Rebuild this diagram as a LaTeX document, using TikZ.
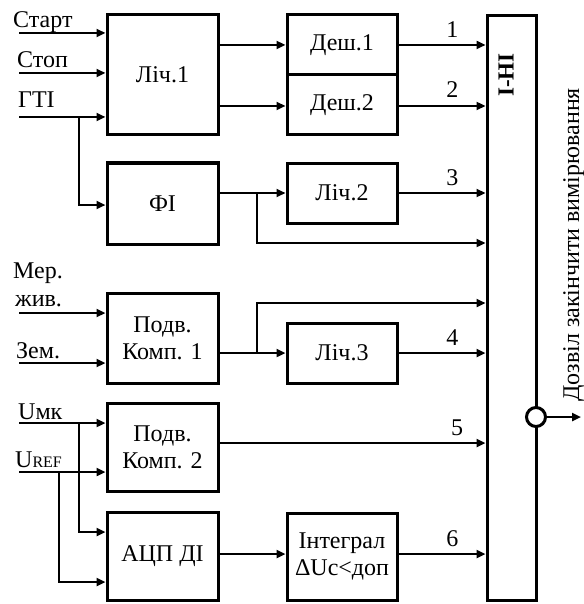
\documentclass[tikz,border=0pt]{standalone}
\usepackage{fontspec}
\setmainfont{Liberation Serif}
\newfontfamily\tmsfont{Liberation Serif}
\usetikzlibrary{arrows.meta,calc}
\begin{document}
\begin{tikzpicture}[x=1pt,y=-1pt,
  font=\tmsfont\fontsize{24}{27}\selectfont,
  blk/.style={draw,line width=3pt,inner sep=0pt,align=center,minimum width=111pt},
  wire/.style={line width=2.4pt},
  arr/.style={wire,-{Triangle[length=9pt,width=8pt]}},
  lbl/.style={anchor=base west,inner sep=0pt},
  num/.style={anchor=base,inner sep=0pt}]
\useasboundingbox (0,0) rectangle (583,604);
% blocks
\node[blk,minimum height=120pt] (lich1) at (162.5,75) {Ліч.1};
\node[blk,minimum width=110pt,minimum height=60pt] (desh1) at (342,45) {Деш.1};
\node[blk,minimum width=110pt,minimum height=60pt] (desh2) at (342,105) {Деш.2};
\node[blk,minimum height=81pt] (fi) at (162.5,203.5) {ФІ};
\node[blk,minimum width=110pt,minimum height=60pt] (lich2) at (342,193) {Ліч.2};
\node[blk,minimum height=90pt] (pk1) at (162.5,338) {Подв.\\Комп. 1};
\node[blk,minimum width=110pt,minimum height=60pt] (lich3) at (342,353) {Ліч.3};
\node[blk,minimum height=88pt] (pk2) at (162.5,447) {Подв.\\Комп. 2};
\node[blk,minimum height=88pt] (adc) at (162.5,556) {АЦП ДІ};
\node[blk,minimum width=110pt,minimum height=87pt] (integ) at (342,556.5) {Інтеграл\\ΔUc<доп};
\node[blk,minimum width=49pt,minimum height=584pt] (ihi) at (511.5,308) {};
\node[rotate=90,inner sep=0pt,font=\tmsfont\fontsize{23}{27}\selectfont\bfseries] (ihilbl) at (506,75) {І-НІ};
\node[draw,circle,line width=3pt,fill=white,minimum size=19pt,inner sep=0pt] (inv) at (536,417) {};
% input labels
\node[lbl] (tStart) at (13,28) {Старт};
\node[lbl] (tStop) at (17,68) {Стоп};
\node[lbl] (tGti) at (18,108) {ГТІ};
\node[lbl] (tMer) at (13,278) {Мер.};
\node[lbl] (tZhyv) at (15,306) {жив.};
\node[lbl] (tZem) at (16,358) {Зем.};
\node[lbl] (tUmk) at (18,419) {Uмк};
\node[lbl] (tUref) at (15,467) {U{\fontsize{16}{16}\selectfont REF}};
% input coordinates
\coordinate (inStart) at (19,33);
\coordinate (inStop) at (19,73);
\coordinate (inGti) at (19,117);
\coordinate (inMer) at (19,313);
\coordinate (inZem) at (19,363);
\coordinate (inUmk) at (19,423);
\coordinate (inUref) at (19,472);
\coordinate (jGti) at (79,117);
\coordinate (jUmk) at (79,423);
\coordinate (jUref) at (59,472);
\coordinate (jFi) at (257,193);
\coordinate (jPk1) at (257,353);
\coordinate (yA) at (0,243);
\coordinate (yB) at (0,303);
\coordinate (y1) at (0,45);
\coordinate (y2) at (0,106);
\coordinate (y5) at (0,443);
\coordinate (y6) at (0,554);
\coordinate (yAdc1) at (0,532);
\coordinate (yAdc2) at (0,582);
\coordinate (yFi) at (0,205);
\coordinate (outEnd) at (581,417);
% inputs
\draw[arr] (inStart) -- (inStart -| lich1.west);
\draw[arr] (inStop) -- (inStop -| lich1.west);
\draw[arr] (inGti) -- (inGti -| lich1.west);
\draw[arr] (jGti) |- (yFi -| fi.west);
\draw[arr] (inMer) -- (inMer -| pk1.west);
\draw[arr] (inZem) -- (inZem -| pk1.west);
\draw[arr] (inUmk) -- (inUmk -| pk2.west);
\draw[arr] (inUref) -- (inUref -| pk2.west);
\draw[arr] (jUmk) |- (yAdc1 -| adc.west);
\draw[arr] (jUref) |- (yAdc2 -| adc.west);
% internal
\draw[arr] (y1 -| lich1.east) -- (y1 -| desh1.west);
\draw[arr] (y2 -| lich1.east) -- (y2 -| desh2.west);
\draw[arr] (y1 -| desh1.east) -- (y1 -| ihi.west) node[num,pos=0.62,yshift=7pt] {1};
\draw[arr] (y2 -| desh2.east) -- (y2 -| ihi.west) node[num,pos=0.62,yshift=8pt] {2};
\draw[arr] (fi.east |- lich2) -- (lich2.west);
\draw[arr] (jFi) |- (yA -| ihi.west);
\draw[arr] (lich2.east) -- (lich2.east -| ihi.west) node[num,pos=0.62,yshift=8pt] {3};
\draw[arr] (pk1.east |- lich3) -- (lich3.west);
\draw[arr] (jPk1) |- (yB -| ihi.west);
\draw[arr] (lich3.east) -- (lich3.east -| ihi.west) node[num,pos=0.62,yshift=8pt] {4};
\draw[arr] (y5 -| pk2.east) -- (y5 -| ihi.west) node[num,pos=0.893,yshift=8pt] {5};
\draw[arr] (y6 -| adc.east) -- (y6 -| integ.west);
\draw[arr] (y6 -| integ.east) -- (y6 -| ihi.west) node[num,pos=0.62,yshift=8pt] {6};
% output
\draw[arr] (inv.east) -- (outEnd);
\node[rotate=90,anchor=base west,inner sep=0pt] (tOut) at (579,402) {Дозвіл закінчити вимірювання};
\end{tikzpicture}
\end{document}
